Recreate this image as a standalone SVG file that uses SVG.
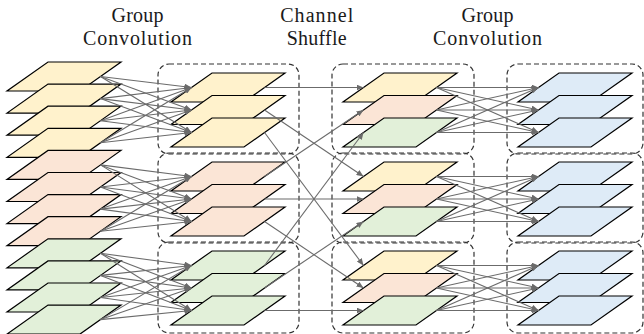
<svg xmlns="http://www.w3.org/2000/svg" xmlns:xlink="http://www.w3.org/1999/xlink" width="644" height="334" viewBox="0 0 644 334">
  <style>
    .title { font-family: "Liberation Serif", "Times New Roman", serif; font-size: 20px; fill: #1a1a1a; text-anchor: middle; }
    .sheet { stroke: #000; stroke-width: 1.2; stroke-linejoin: miter; }
    .y { fill: #fff2cc; }
    .o { fill: #fbe5d6; }
    .g { fill: #e2f0d9; }
    .b { fill: #deebf7; }
    .box { fill: none; stroke: #333; stroke-width: 1.2; stroke-dasharray: 5 3; }
    .edge { stroke: #6b6b6b; stroke-width: 1.1; fill: none; marker-end: url(#arrow); }
  </style>
  <defs>
    <!-- one feature-map sheet: a parallelogram 114 wide, 29 tall -->
    <path id="sheet" d="M41,0 H114 L73,29 H0 Z"/>
    <marker id="arrow" markerUnits="userSpaceOnUse" markerWidth="8" markerHeight="6" refX="7" refY="3" orient="auto">
      <path d="M0,0 L7,3 L0,6 Z" fill="#6b6b6b"/>
    </marker>
  </defs>

  <!-- column titles -->
  <g id="titles">
    <text class="title" x="137.5" y="22" textLength="52" lengthAdjust="spacing">Group</text>
    <text class="title" x="137.5" y="45" textLength="109" lengthAdjust="spacing">Convolution</text>
    <text class="title" x="316.7" y="22" textLength="73" lengthAdjust="spacing">Channel</text>
    <text class="title" x="316.7" y="45" textLength="60" lengthAdjust="spacing">Shuffle</text>
    <text class="title" x="487.5" y="22" textLength="52" lengthAdjust="spacing">Group</text>
    <text class="title" x="487.5" y="45" textLength="109" lengthAdjust="spacing">Convolution</text>
  </g>

  <!-- dashed group outlines -->
  <g id="groups">
    <rect class="box" x="158" y="64" width="141" height="90" rx="11"/>
    <rect class="box" x="158" y="153" width="141" height="90" rx="11"/>
    <rect class="box" x="158" y="242" width="141" height="91" rx="11"/>
    <rect class="box" x="332" y="64" width="142" height="90" rx="11"/>
    <rect class="box" x="332" y="153" width="142" height="90" rx="11"/>
    <rect class="box" x="332" y="242" width="142" height="91" rx="11"/>
    <rect class="box" x="507" y="64" width="136" height="90" rx="11"/>
    <rect class="box" x="507" y="153" width="136" height="90" rx="11"/>
    <rect class="box" x="507" y="242" width="136" height="91" rx="11"/>
  </g>

  <!-- input channels -->
  <g id="in-0"><use xlink:href="#sheet" class="sheet y" x="7" y="62"/></g>
  <g id="in-1"><use xlink:href="#sheet" class="sheet y" x="7" y="84.1"/></g>
  <g id="in-2"><use xlink:href="#sheet" class="sheet y" x="7" y="106.2"/></g>
  <g id="in-3"><use xlink:href="#sheet" class="sheet y" x="7" y="128.3"/></g>
  <g id="in-4"><use xlink:href="#sheet" class="sheet o" x="7" y="150.4"/></g>
  <g id="in-5"><use xlink:href="#sheet" class="sheet o" x="7" y="172.5"/></g>
  <g id="in-6"><use xlink:href="#sheet" class="sheet o" x="7" y="194.6"/></g>
  <g id="in-7"><use xlink:href="#sheet" class="sheet o" x="7" y="216.7"/></g>
  <g id="in-8"><use xlink:href="#sheet" class="sheet g" x="7" y="238.8"/></g>
  <g id="in-9"><use xlink:href="#sheet" class="sheet g" x="7" y="260.9"/></g>
  <g id="in-10"><use xlink:href="#sheet" class="sheet g" x="7" y="283"/></g>
  <g id="in-11"><use xlink:href="#sheet" class="sheet g" x="7" y="305.1"/></g>

  <!-- first group convolution output -->
  <g id="gc1-0-0"><use xlink:href="#sheet" class="sheet y" x="171" y="73"/></g>
  <g id="gc1-0-1"><use xlink:href="#sheet" class="sheet y" x="171" y="95.5"/></g>
  <g id="gc1-0-2"><use xlink:href="#sheet" class="sheet y" x="171" y="118"/></g>
  <g id="gc1-1-0"><use xlink:href="#sheet" class="sheet o" x="171" y="162"/></g>
  <g id="gc1-1-1"><use xlink:href="#sheet" class="sheet o" x="171" y="184.5"/></g>
  <g id="gc1-1-2"><use xlink:href="#sheet" class="sheet o" x="171" y="207"/></g>
  <g id="gc1-2-0"><use xlink:href="#sheet" class="sheet g" x="171" y="251"/></g>
  <g id="gc1-2-1"><use xlink:href="#sheet" class="sheet g" x="171" y="273.5"/></g>
  <g id="gc1-2-2"><use xlink:href="#sheet" class="sheet g" x="171" y="296"/></g>

  <!-- shuffled channels -->
  <g id="sh-0-0"><use xlink:href="#sheet" class="sheet y" x="343" y="73"/></g>
  <g id="sh-0-1"><use xlink:href="#sheet" class="sheet o" x="343" y="95.5"/></g>
  <g id="sh-0-2"><use xlink:href="#sheet" class="sheet g" x="343" y="118"/></g>
  <g id="sh-1-0"><use xlink:href="#sheet" class="sheet y" x="343" y="162"/></g>
  <g id="sh-1-1"><use xlink:href="#sheet" class="sheet o" x="343" y="184.5"/></g>
  <g id="sh-1-2"><use xlink:href="#sheet" class="sheet g" x="343" y="207"/></g>
  <g id="sh-2-0"><use xlink:href="#sheet" class="sheet y" x="343" y="251"/></g>
  <g id="sh-2-1"><use xlink:href="#sheet" class="sheet o" x="343" y="273.5"/></g>
  <g id="sh-2-2"><use xlink:href="#sheet" class="sheet g" x="343" y="296"/></g>

  <!-- second group convolution output -->
  <g id="gc2-0-0"><use xlink:href="#sheet" class="sheet b" x="518" y="73"/></g>
  <g id="gc2-0-1"><use xlink:href="#sheet" class="sheet b" x="518" y="95.5"/></g>
  <g id="gc2-0-2"><use xlink:href="#sheet" class="sheet b" x="518" y="118"/></g>
  <g id="gc2-1-0"><use xlink:href="#sheet" class="sheet b" x="518" y="162"/></g>
  <g id="gc2-1-1"><use xlink:href="#sheet" class="sheet b" x="518" y="184.5"/></g>
  <g id="gc2-1-2"><use xlink:href="#sheet" class="sheet b" x="518" y="207"/></g>
  <g id="gc2-2-0"><use xlink:href="#sheet" class="sheet b" x="518" y="251"/></g>
  <g id="gc2-2-1"><use xlink:href="#sheet" class="sheet b" x="518" y="273.5"/></g>
  <g id="gc2-2-2"><use xlink:href="#sheet" class="sheet b" x="518" y="296"/></g>

  <g id="connectors">
    <!-- group convolution 1: every input of a group feeds every output of that group -->
    <line class="edge" x1="100.5" y1="76.5" x2="191.5" y2="87.5"/>
    <line class="edge" x1="100.5" y1="76.5" x2="191.5" y2="110"/>
    <line class="edge" x1="100.5" y1="76.5" x2="191.5" y2="132.5"/>
    <line class="edge" x1="100.5" y1="98.6" x2="191.5" y2="87.5"/>
    <line class="edge" x1="100.5" y1="98.6" x2="191.5" y2="110"/>
    <line class="edge" x1="100.5" y1="98.6" x2="191.5" y2="132.5"/>
    <line class="edge" x1="100.5" y1="120.7" x2="191.5" y2="87.5"/>
    <line class="edge" x1="100.5" y1="120.7" x2="191.5" y2="110"/>
    <line class="edge" x1="100.5" y1="120.7" x2="191.5" y2="132.5"/>
    <line class="edge" x1="100.5" y1="142.8" x2="191.5" y2="87.5"/>
    <line class="edge" x1="100.5" y1="142.8" x2="191.5" y2="110"/>
    <line class="edge" x1="100.5" y1="142.8" x2="191.5" y2="132.5"/>

    <line class="edge" x1="100.5" y1="164.9" x2="191.5" y2="176.5"/>
    <line class="edge" x1="100.5" y1="164.9" x2="191.5" y2="199"/>
    <line class="edge" x1="100.5" y1="164.9" x2="191.5" y2="221.5"/>
    <line class="edge" x1="100.5" y1="187" x2="191.5" y2="176.5"/>
    <line class="edge" x1="100.5" y1="187" x2="191.5" y2="199"/>
    <line class="edge" x1="100.5" y1="187" x2="191.5" y2="221.5"/>
    <line class="edge" x1="100.5" y1="209.1" x2="191.5" y2="176.5"/>
    <line class="edge" x1="100.5" y1="209.1" x2="191.5" y2="199"/>
    <line class="edge" x1="100.5" y1="209.1" x2="191.5" y2="221.5"/>
    <line class="edge" x1="100.5" y1="231.2" x2="191.5" y2="176.5"/>
    <line class="edge" x1="100.5" y1="231.2" x2="191.5" y2="199"/>
    <line class="edge" x1="100.5" y1="231.2" x2="191.5" y2="221.5"/>

    <line class="edge" x1="100.5" y1="253.3" x2="191.5" y2="265.5"/>
    <line class="edge" x1="100.5" y1="253.3" x2="191.5" y2="288"/>
    <line class="edge" x1="100.5" y1="253.3" x2="191.5" y2="310.5"/>
    <line class="edge" x1="100.5" y1="275.4" x2="191.5" y2="265.5"/>
    <line class="edge" x1="100.5" y1="275.4" x2="191.5" y2="288"/>
    <line class="edge" x1="100.5" y1="275.4" x2="191.5" y2="310.5"/>
    <line class="edge" x1="100.5" y1="297.5" x2="191.5" y2="265.5"/>
    <line class="edge" x1="100.5" y1="297.5" x2="191.5" y2="288"/>
    <line class="edge" x1="100.5" y1="297.5" x2="191.5" y2="310.5"/>
    <line class="edge" x1="100.5" y1="319.6" x2="191.5" y2="265.5"/>
    <line class="edge" x1="100.5" y1="319.6" x2="191.5" y2="288"/>
    <line class="edge" x1="100.5" y1="319.6" x2="191.5" y2="310.5"/>

    <!-- channel shuffle: channel c of group g goes to slot g of group c -->
    <line class="edge" x1="264.5" y1="87.5" x2="363.5" y2="87.5"/>
    <line class="edge" x1="264.5" y1="110" x2="363.5" y2="176.5"/>
    <line class="edge" x1="264.5" y1="132.5" x2="363.5" y2="265.5"/>
    <line class="edge" x1="264.5" y1="176.5" x2="363.5" y2="110"/>
    <line class="edge" x1="264.5" y1="199" x2="363.5" y2="199"/>
    <line class="edge" x1="264.5" y1="221.5" x2="363.5" y2="288"/>
    <line class="edge" x1="264.5" y1="265.5" x2="363.5" y2="132.5"/>
    <line class="edge" x1="264.5" y1="288" x2="363.5" y2="221.5"/>
    <line class="edge" x1="264.5" y1="310.5" x2="363.5" y2="310.5"/>

    <!-- group convolution 2 -->
    <line class="edge" x1="436.5" y1="87.5" x2="538.5" y2="87.5"/>
    <line class="edge" x1="436.5" y1="87.5" x2="538.5" y2="110"/>
    <line class="edge" x1="436.5" y1="87.5" x2="538.5" y2="132.5"/>
    <line class="edge" x1="436.5" y1="110" x2="538.5" y2="87.5"/>
    <line class="edge" x1="436.5" y1="110" x2="538.5" y2="110"/>
    <line class="edge" x1="436.5" y1="110" x2="538.5" y2="132.5"/>
    <line class="edge" x1="436.5" y1="132.5" x2="538.5" y2="87.5"/>
    <line class="edge" x1="436.5" y1="132.5" x2="538.5" y2="110"/>
    <line class="edge" x1="436.5" y1="132.5" x2="538.5" y2="132.5"/>

    <line class="edge" x1="436.5" y1="176.5" x2="538.5" y2="176.5"/>
    <line class="edge" x1="436.5" y1="176.5" x2="538.5" y2="199"/>
    <line class="edge" x1="436.5" y1="176.5" x2="538.5" y2="221.5"/>
    <line class="edge" x1="436.5" y1="199" x2="538.5" y2="176.5"/>
    <line class="edge" x1="436.5" y1="199" x2="538.5" y2="199"/>
    <line class="edge" x1="436.5" y1="199" x2="538.5" y2="221.5"/>
    <line class="edge" x1="436.5" y1="221.5" x2="538.5" y2="176.5"/>
    <line class="edge" x1="436.5" y1="221.5" x2="538.5" y2="199"/>
    <line class="edge" x1="436.5" y1="221.5" x2="538.5" y2="221.5"/>

    <line class="edge" x1="436.5" y1="265.5" x2="538.5" y2="265.5"/>
    <line class="edge" x1="436.5" y1="265.5" x2="538.5" y2="288"/>
    <line class="edge" x1="436.5" y1="265.5" x2="538.5" y2="310.5"/>
    <line class="edge" x1="436.5" y1="288" x2="538.5" y2="265.5"/>
    <line class="edge" x1="436.5" y1="288" x2="538.5" y2="288"/>
    <line class="edge" x1="436.5" y1="288" x2="538.5" y2="310.5"/>
    <line class="edge" x1="436.5" y1="310.5" x2="538.5" y2="265.5"/>
    <line class="edge" x1="436.5" y1="310.5" x2="538.5" y2="288"/>
    <line class="edge" x1="436.5" y1="310.5" x2="538.5" y2="310.5"/>
  </g>
</svg>
